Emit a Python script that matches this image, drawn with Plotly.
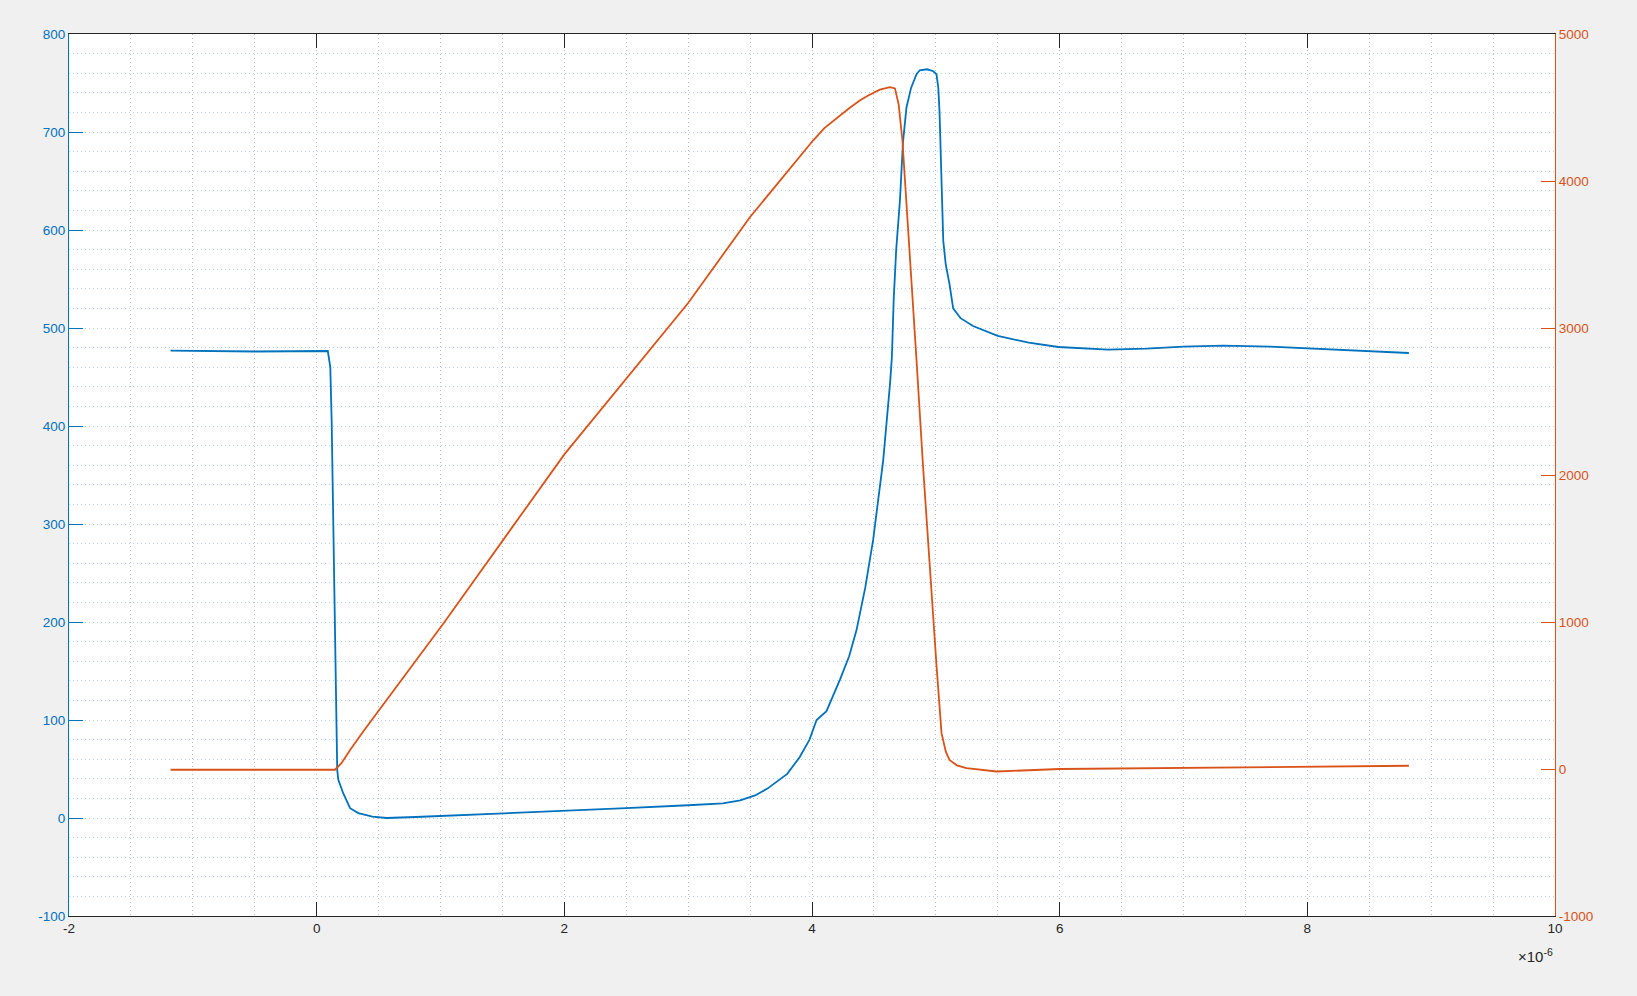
import plotly.graph_objects as go

# Time axis in microseconds (axis shows x10^-6)
t_blue = [-1.18, -0.5, 0.09, 0.11, 0.121, 0.14, 0.156, 0.166, 0.175, 0.215, 0.27, 0.336,
          0.45, 0.565, 0.8, 0.995, 1.48, 1.98, 2.5, 3.0, 3.28, 3.42, 3.54, 3.64, 3.74,
          3.80, 3.90, 3.98, 4.037, 4.117, 4.225, 4.30, 4.36, 4.43, 4.494, 4.575, 4.63,
          4.645, 4.66, 4.68, 4.71, 4.735, 4.763, 4.80, 4.844, 4.87, 4.93, 4.98, 5.005,
          5.02, 5.03, 5.045, 5.06, 5.08, 5.11, 5.14, 5.20, 5.30, 5.50, 5.75, 5.99, 6.39,
          6.7, 7.0, 7.32, 7.7, 8.01, 8.4, 8.82]
v_blue = [477, 476, 476.5, 460, 406, 250, 90, 49, 39, 25, 10, 5,
          1.5, 0, 1, 2, 5, 7, 10, 13, 15, 18, 23, 30, 39,
          45, 62, 80, 100, 109, 141, 165, 192, 235, 284, 365, 443,
          470, 530, 580, 630, 690, 725, 745, 759, 763, 764, 762, 759,
          745, 720, 640, 589, 565, 545, 520, 510, 502, 492, 485, 480.6, 478,
          479, 481, 482, 481, 479, 477, 474.5]

t_orange = [-1.18, -0.5, 0.148, 0.2, 0.27, 0.376, 1.025, 2.0, 3.0, 3.5, 4.01, 4.1,
            4.2, 4.3, 4.386, 4.45, 4.548, 4.60, 4.629, 4.67, 4.70, 4.73, 4.80, 4.817,
            4.844, 4.897, 4.95, 5.006, 5.046, 5.08, 5.11, 5.17, 5.248, 5.355, 5.49,
            6.0, 6.85, 7.5, 8.2, 8.82]
v_orange = [-5, -5, -5, 40, 130, 255, 992, 2140, 3170, 3755, 4277, 4360,
            4430, 4495, 4548, 4580, 4621, 4634, 4639, 4630, 4520, 4277, 3370, 3189,
            2781, 2056, 1376, 697, 244, 120, 62, 25, 6, -5, -17,
            0, 6, 15, 20, 22]

x_ticks = [-2, 0, 2, 4, 6, 8, 10]
y_left_ticks = [-100, 0, 100, 200, 300, 400, 500, 600, 700, 800]
y_right_ticks = [-1000, 0, 1000, 2000, 3000, 4000, 5000]

BLUE = "#0072BD"
ORANGE = "#D95319"
DARK = "#262626"
FONT = "Liberation Sans, Arial, sans-serif"
FS = 13.5

fig = go.Figure()
fig.add_trace(go.Scatter(x=t_blue, y=v_blue, mode="lines",
                         line=dict(color=BLUE, width=1.8), yaxis="y"))
fig.add_trace(go.Scatter(x=t_orange, y=v_orange, mode="lines",
                         line=dict(color=ORANGE, width=1.8), yaxis="y2"))

fig.update_layout(
    width=1637, height=996,
    margin=dict(l=69, r=82, t=34, b=80),
    paper_bgcolor="#f0f0f0", plot_bgcolor="white",
    showlegend=False,
    font=dict(family=FONT, size=FS, color=DARK),
    xaxis=dict(
        range=[-2, 10], tickvals=x_ticks, ticktext=[str(v) for v in x_ticks],
        ticks="inside", ticklen=14, tickcolor=DARK, tickwidth=1,
        showline=True, linecolor=DARK, linewidth=1, mirror="ticks",
        zeroline=False,
        showgrid=True, gridcolor="#bdbdbd", griddash="1px,3px", gridwidth=1,
        minor=dict(dtick=0.5, showgrid=True, gridcolor="#bdbdbd",
                   griddash="1px,3px", gridwidth=1),
        tickfont=dict(color=DARK, size=FS, family=FONT),
    ),
    yaxis=dict(
        range=[-100, 800], tickvals=y_left_ticks,
        ticktext=[str(v) for v in y_left_ticks],
        ticks="inside", ticklen=14, tickcolor=BLUE, tickwidth=1,
        showline=True, linecolor=BLUE, linewidth=1.2, mirror=False,
        zeroline=False,
        showgrid=True, gridcolor="#aed3ec", griddash="1px,3px", gridwidth=1,
        minor=dict(dtick=20, showgrid=True, gridcolor="#aed3ec",
                   griddash="1px,3px", gridwidth=1),
        tickfont=dict(color=BLUE, size=FS, family=FONT),
    ),
    yaxis2=dict(
        range=[-1000, 5000], tickvals=y_right_ticks,
        ticktext=[str(v) for v in y_right_ticks],
        overlaying="y", side="right",
        ticks="inside", ticklen=14, tickcolor=ORANGE, tickwidth=1,
        showline=True, linecolor=ORANGE, linewidth=1.2,
        zeroline=False, showgrid=False,
        tickfont=dict(color=ORANGE, size=FS, family=FONT),
    ),
    annotations=[dict(
        xref="paper", yref="paper", x=1.0, y=-0.045,
        xanchor="right", yanchor="middle", showarrow=False,
        text="\u00d710<sup>-6</sup>",
        font=dict(color=DARK, size=15, family=FONT),
    )],
)

fig.write_html(
    "out.html",
    config={"displayModeBar": False},
    post_script="document.body.style.margin='0';document.body.style.background='#f0f0f0';",
)
